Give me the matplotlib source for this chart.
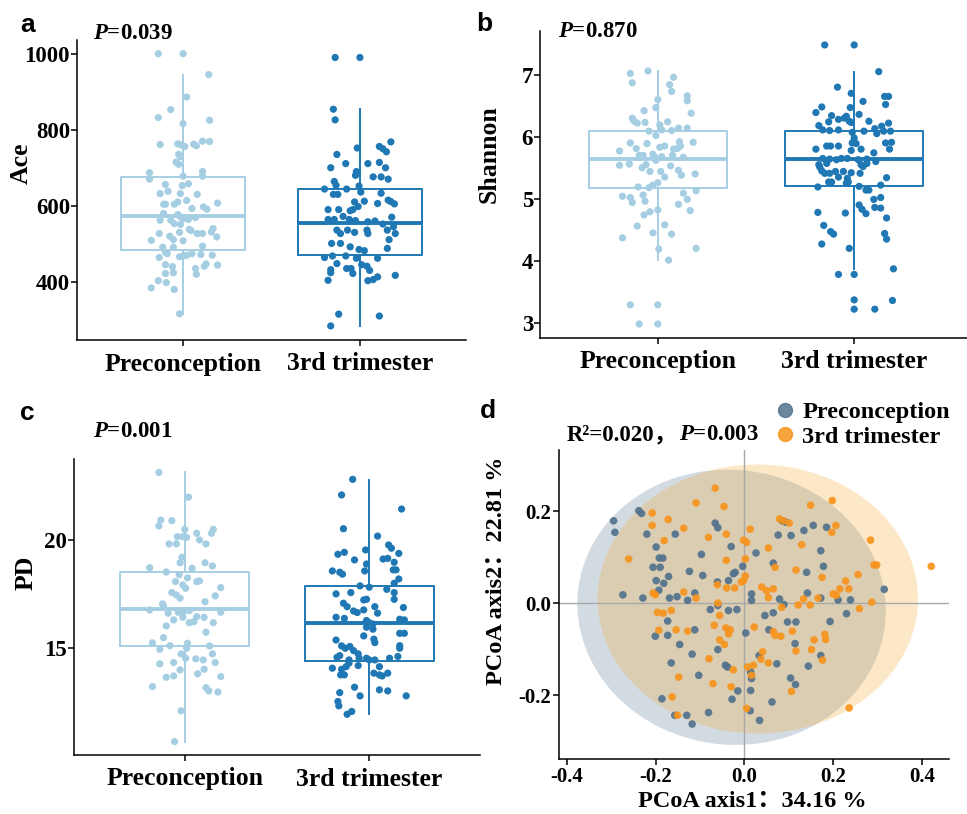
import numpy as np
import matplotlib
matplotlib.use('Agg')
import matplotlib.pyplot as plt
from matplotlib.patches import Ellipse
from matplotlib.lines import Line2D

plt.rcParams['font.family'] = ['Liberation Serif', 'Noto Sans CJK SC']
plt.rcParams['font.weight'] = 'bold'
plt.rcParams['axes.labelweight'] = 'bold'
plt.rcParams['mathtext.fontset'] = 'custom'
plt.rcParams['mathtext.it'] = 'Liberation Serif:italic:bold'
plt.rcParams['mathtext.rm'] = 'Liberation Serif:bold'
plt.rcParams['axes.linewidth'] = 1.1

groups = ['Preconception', '3rd trimester']

# ---- panel a: Ace (value, jitter offset) ----
ace_pre = [1000, 1000, 945, 886, 853, 832, 825, 816, 761, 763, 760, 756, 762, 758, 770, 769,
           735, 729, 715, 709, 687, 670, 690, 678, 678, 656, 653, 658, 632, 638, 632, 630,
           604, 604, 604, 610, 614, 593, 597, 591, 607, 580, 577, 571, 562, 562, 566, 564,
           569, 553, 551, 538, 535, 527, 530, 527, 527, 531, 540, 509, 520, 511, 508, 518,
           491, 478, 491, 494, 464, 474, 466, 468, 470, 474, 472, 470, 445, 440, 435, 441,
           447, 444, 422, 424, 420, 403, 398, 384, 380, 316]
ace_pre_jit = [-0.14, 0.0, 0.145, 0.02, -0.07, -0.14, 0.15, 0.0, -0.13, -0.03, -0.01, 0.01, 0.06, 0.075, 0.11, 0.15,
               -0.025, -0.015, -0.04, -0.025, -0.19, -0.19, 0.11, 0.11, 0.0, -0.1, -0.005, 0.03, -0.13, -0.085, -0.015, 0.08,
               -0.11, -0.05, -0.1, -0.03, 0.02, 0.05, 0.115, 0.135, 0.195, -0.11, -0.03, -0.015, -0.13, -0.07, 0.0, 0.03,
               0.07, -0.05, -0.015, 0.035, 0.045, -0.135, -0.02, 0.08, 0.11, 0.16, 0.17, -0.18, -0.075, -0.055, 0.0, 0.19,
               -0.115, -0.1, -0.055, 0.11, -0.135, -0.09, -0.02, 0.0, 0.02, 0.05, 0.1, 0.165, -0.1, -0.06, 0.07, 0.12,
               0.13, 0.195, -0.1, -0.055, 0.075, -0.14, -0.095, -0.18, -0.05, -0.02]
ace_tri = [990, 990, 854, 826, 752, 756, 750, 742, 768, 735, 700, 711, 711, 714, 700, 690,
           680, 676, 676, 670, 664, 654, 644, 644, 652, 630, 630, 636, 633, 615, 611, 605,
           610, 612, 606, 590, 590, 587, 590, 598, 570, 564, 564, 572, 564, 561, 558, 560,
           552, 545, 536, 527, 536, 530, 536, 527, 536, 527, 501, 501, 492, 511, 485, 482,
           488, 464, 468, 468, 462, 462, 448, 435, 435, 445, 441, 430, 432, 424, 422, 413,
           406, 403, 417, 404, 315, 310, 284]
ace_tri_jit = [-0.14, 0.0, -0.15, -0.14, -0.015, 0.11, 0.13, 0.15, 0.175, -0.13, -0.165, -0.08, 0.045, 0.11, 0.145, -0.02,
               -0.025, 0.075, 0.12, 0.16, -0.145, -0.135, -0.2, -0.075, -0.005, -0.15, -0.125, 0.005, 0.12, 0.16, 0.175, 0.195,
               -0.03, 0.025, 0.1, -0.18, -0.12, -0.055, -0.04, -0.01, 0.18, -0.18, -0.145, -0.095, -0.06, -0.025, 0.045, 0.085,
               0.13, 0.19, -0.13, -0.11, -0.07, -0.03, 0.04, 0.045, 0.155, 0.2, -0.16, -0.11, -0.055, 0.165, -0.005, 0.025,
               0.155, -0.2, -0.155, -0.08, -0.02, 0.1, -0.13, -0.075, -0.05, 0.01, 0.04, 0.055, -0.165, -0.165, -0.04, 0.1,
               0.075, 0.045, 0.2, -0.18, -0.12, 0.11, -0.165]

# ---- panel b: Shannon ----
sha_pre = [7.02, 7.06, 6.87, 6.96, 6.84, 6.73, 6.60, 6.66, 6.58, 6.47, 6.42, 6.38, 6.30, 6.25, 6.22, 6.23,
           6.24, 6.19, 6.09, 6.11, 6.10, 6.14, 6.14, 6.02, 5.90, 5.89, 5.92, 5.85, 5.91, 5.77, 5.81, 5.83,
           5.85, 5.80, 5.81, 5.70, 5.70, 5.72, 5.67, 5.68, 5.70, 5.67, 5.54, 5.56, 5.50, 5.55, 5.62, 5.53,
           5.44, 5.44, 5.46, 5.38, 5.40, 5.35, 5.26, 5.22, 5.19, 5.18, 5.13, 5.09, 5.04, 5.02, 4.94, 5.06,
           4.96, 4.99, 4.91, 4.79, 4.74, 4.82, 4.81, 4.56, 4.58, 4.45, 4.43, 4.37, 4.19, 4.20, 4.01, 3.29,
           3.29, 2.98, 2.98]
sha_pre_jit = [-0.14, -0.05, -0.13, 0.08, 0.06, 0.07, 0.0, 0.15, 0.15, -0.01, -0.07, 0.17, -0.13, -0.12, -0.105, -0.065,
               0.05, 0.01, -0.045, 0.02, 0.07, 0.105, 0.15, -0.01, -0.14, -0.055, 0.11, 0.115, 0.18, -0.195, -0.11, 0.01,
               0.035, 0.08, 0.1, -0.095, -0.075, -0.025, -0.015, 0.02, 0.075, 0.13, -0.195, -0.145, -0.08, -0.06, -0.01, 0.065,
               -0.04, 0.015, 0.105, 0.12, 0.19, 0.035, 0.0, -0.025, -0.1, -0.045, 0.195, 0.13, -0.18, -0.14, -0.13, -0.075,
               -0.065, 0.15, 0.105, -0.04, -0.07, 0.0, 0.165, -0.105, 0.035, -0.025, 0.07, -0.18, 0.005, 0.195, 0.055, -0.14,
               0.0, -0.095, 0.0]
sha_tri = [7.48, 7.48, 7.05, 6.80, 6.70, 6.57, 6.65, 6.65, 6.52, 6.48, 6.39, 6.34, 6.47, 6.36, 6.28, 6.30,
           6.33, 6.24, 6.18, 6.25, 6.23, 6.25, 6.17, 6.22, 6.13, 6.11, 6.10, 6.11, 6.07, 6.09, 6.05, 6.09,
           6.09, 5.98, 5.90, 5.89, 5.85, 5.85, 5.85, 5.90, 5.91, 5.80, 5.78, 5.80, 5.80, 5.74, 5.65, 5.64,
           5.63, 5.65, 5.55, 5.57, 5.65, 5.63, 5.64, 5.60, 5.55, 5.52, 5.57, 5.51, 5.45, 5.41, 5.44, 5.44,
           5.41, 5.42, 5.41, 5.35, 5.33, 5.27, 5.27, 5.27, 5.25, 5.19, 5.20, 5.14, 5.14, 5.22, 5.34, 5.02,
           4.99, 4.86, 4.85, 4.90, 4.83, 4.76, 4.78, 4.77, 4.69, 4.57, 4.47, 4.43, 4.44, 4.35, 4.27, 4.20,
           3.78, 3.78, 3.87, 3.37, 3.22, 3.22, 3.36]
sha_tri_jit = [-0.15, 0.0, 0.125, -0.085, -0.015, 0.045, 0.155, 0.175, 0.16, -0.165, -0.195, -0.115, -0.02, 0.025, -0.08, -0.05,
               -0.04, -0.13, -0.18, -0.025, -0.015, 0.075, 0.14, 0.175, 0.105, -0.16, -0.125, -0.08, -0.01, 0.05, 0.115, 0.15,
               0.185, 0.0, -0.01, 0.01, -0.14, -0.12, -0.08, 0.16, 0.19, -0.195, -0.015, 0.035, 0.18, 0.1, -0.16, -0.125,
               -0.09, -0.065, -0.18, -0.14, -0.035, 0.02, 0.065, 0.11, 0.035, 0.045, 0.065, -0.175, -0.165, -0.15, -0.095, -0.055,
               -0.125, -0.015, 0.03, -0.08, -0.035, -0.13, -0.115, -0.03, -0.04, -0.185, 0.025, 0.06, 0.075, 0.135, 0.165, 0.135,
               0.1, 0.105, 0.135, 0.025, 0.04, 0.06, -0.185, -0.045, 0.165, -0.155, -0.12, -0.105, 0.155, 0.165, -0.165, -0.025,
               -0.08, 0.0, 0.2, 0.0, 0.0, 0.105, 0.195]

# ---- panel c: PD ----
pd_pre = [23.12, 21.98, 20.92, 20.65, 20.89, 20.49, 20.49, 20.31, 20.15, 20.15, 20.12, 20.31, 20.00, 19.82, 19.82, 19.82,
          19.20, 18.95, 18.72, 18.95, 18.80, 18.69, 18.52, 18.40, 18.25, 18.08, 18.11, 18.08, 17.92, 17.77, 17.80, 17.57,
          17.46, 17.31, 17.42, 17.15, 17.05, 16.95, 16.77, 16.66, 16.62, 16.74, 16.62, 16.66, 16.31, 16.43, 16.46, 16.43,
          16.18, 16.23, 16.18, 16.03, 15.74, 15.49, 15.25, 15.12, 15.23, 15.00, 14.95, 15.11, 14.74, 14.74, 14.54, 14.51,
          14.46, 14.34, 14.28, 14.34, 14.00, 13.66, 13.72, 13.82, 14.03, 13.69, 13.23, 13.18, 13.03, 12.98, 12.11, 10.69]
pd_pre_jit = [-0.14, 0.02, -0.13, -0.14, -0.07, 0.0, 0.155, 0.145, -0.04, -0.01, 0.01, 0.065, 0.08, 0.115, -0.085, -0.045,
              -0.015, -0.025, -0.19, 0.11, 0.15, 0.04, -0.1, -0.03, 0.015, 0.065, 0.08, -0.05, -0.01, 0.005, 0.195, -0.07,
              -0.045, -0.025, 0.165, 0.11, -0.12, -0.115, -0.19, -0.035, -0.01, 0.025, -0.09, 0.195, -0.06, -0.01, 0.065, 0.105,
              0.025, 0.05, 0.155, -0.1, 0.115, -0.115, -0.175, -0.08, 0.015, 0.01, -0.135, 0.135, -0.02, 0.15, 0.005, 0.06,
              0.1, -0.06, -0.135, 0.165, -0.025, -0.1, -0.06, 0.07, 0.105, 0.195, -0.175, 0.115, 0.13, 0.18, -0.02, -0.055]
pd_tri = [22.80, 22.08, 21.43, 20.52, 20.18, 19.77, 19.62, 19.54, 19.34, 19.43, 19.38, 19.08, 19.12, 19.15, 18.97, 18.89,
          18.57, 18.51, 18.42, 18.57, 18.62, 18.62, 18.20, 18.00, 17.88, 17.82, 17.72, 17.51, 17.57, 17.57, 17.26, 17.23,
          17.26, 17.08, 16.92, 16.92, 16.88, 16.72, 16.65, 16.77, 16.62, 16.43, 16.38, 16.28, 16.18, 16.12, 16.34, 16.31,
          15.97, 15.88, 15.69, 15.69, 15.57, 15.42, 15.26, 15.38, 15.11, 15.00, 15.08, 15.12, 15.00, 14.89, 14.74, 14.66,
          14.58, 14.46, 14.54, 14.54, 14.46, 14.46, 14.54, 14.62, 14.08, 14.03, 14.15, 14.20, 14.31, 13.77, 13.77, 13.85,
          13.77, 13.85, 13.72, 14.15, 13.20, 13.08, 13.03, 12.95, 12.80, 12.80, 12.54, 12.34, 12.08, 11.95]
pd_tri_jit = [-0.09, -0.15, 0.175, -0.14, 0.045, 0.105, 0.12, -0.02, -0.17, -0.135, 0.16, -0.08, 0.075, 0.1, 0.135, -0.015,
              -0.2, -0.16, -0.145, -0.025, 0.13, 0.145, 0.16, 0.135, -0.05, 0.0, 0.095, -0.18, -0.1, 0.135, 0.135, -0.03,
              -0.015, -0.14, -0.12, 0.03, 0.185, -0.085, -0.065, -0.03, 0.045, -0.18, -0.135, -0.015, 0.0, 0.02, 0.165, 0.19,
              -0.015, 0.02, 0.165, 0.19, -0.03, 0.025, 0.03, -0.18, -0.15, -0.13, -0.105, 0.165, 0.165, -0.085, -0.06, -0.16,
              -0.175, -0.11, -0.055, -0.015, 0.0, 0.03, 0.11, 0.155, -0.2, -0.15, -0.125, -0.06, -0.11, -0.155, -0.135, 0.025,
              0.055, 0.1, 0.07, 0.055, -0.08, 0.055, 0.1, -0.16, -0.05, 0.2, -0.17, -0.165, -0.095, -0.12]

# box statistics as drawn: whisker low, Q1, median, Q3, whisker high
ace_box = [[316, 483, 572, 676, 943], [284, 470, 556, 643, 854]]
sha_box = [[4.01, 5.18, 5.64, 6.09, 7.06], [3.87, 5.21, 5.64, 6.10, 7.04]]
pd_box = [[10.69, 15.11, 16.80, 18.54, 23.12], [11.95, 14.43, 16.15, 17.88, 22.77]]

# ---- panel d: PCoA ----
pc_pre_x = [-0.295, -0.292, -0.238, -0.232, -0.220, -0.156, -0.199, -0.192, -0.184, -0.206, -0.190, -0.199, -0.182, -0.193,
            -0.171, -0.274, -0.229, -0.169, -0.152, -0.128, -0.112, -0.124, -0.094, -0.097, -0.066, -0.060, -0.030, -0.061,
            -0.036, -0.025, -0.021, -0.004, 0.026, 0.016, 0.016, -0.077, -0.060, -0.036, -0.017, -0.173, -0.201, -0.173,
            -0.112, -0.146, 0.003, -0.118, -0.060, -0.165, -0.043, -0.038, 0.033, -0.103, 0.014, 0.016, -0.015, 0.014,
            -0.186, -0.028, -0.157, -0.130, -0.118, -0.081, 0.013, 0.034, 0.062, 0.046, 0.065, 0.055, 0.073, 0.104,
            0.115, 0.114, 0.097, 0.116, 0.089, 0.079, 0.065, 0.076, 0.085, 0.093, 0.105, 0.134, 0.155, 0.185,
            0.140, 0.142, 0.172, 0.178, 0.172, 0.211, 0.239, 0.193, 0.230, 0.172, 0.144, 0.315]
pc_pre_y = [0.179, 0.154, 0.201, 0.195, 0.150, 0.150, 0.122, 0.098, 0.098, 0.078, 0.078, 0.049, 0.043, 0.028,
            0.058, 0.018, 0.011, 0.011, 0.014, 0.006, 0.022, 0.069, 0.060, 0.106, 0.174, 0.164, 0.123, 0.046,
            0.049, 0.064, 0.067, 0.080, 0.109, 0.020, 0.006, -0.014, -0.005, -0.016, -0.014, -0.039, -0.072, -0.070,
            -0.058, -0.090, -0.065, -0.111, -0.101, -0.130, -0.135, -0.139, -0.114, -0.157, -0.150, -0.164, -0.191, -0.190,
            -0.208, -0.209, -0.244, -0.244, -0.263, -0.238, -0.234, -0.255, -0.215, -0.027, -0.021, -0.058, -0.132, -0.163,
            -0.177, -0.088, -0.041, -0.041, -0.003, 0.009, 0.087, 0.148, 0.179, 0.176, 0.147, 0.158, 0.169, 0.165,
            0.067, 0.022, 0.114, 0.080, 0.011, 0.007, 0.007, -0.040, -0.023, -0.114, -0.137, 0.030]
pc_tri_x = [-0.066, -0.109, -0.046, -0.208, -0.172, -0.208, -0.137, -0.181, -0.261, -0.081, -0.041, 0.013, -0.002, 0.005,
            -0.041, 0.002, 0.054, 0.079, 0.088, 0.101, 0.149, 0.198, 0.206, 0.197, 0.129, 0.284, 0.292, 0.298,
            0.421, 0.069, 0.116, 0.175, 0.256, 0.228, 0.215, 0.235, 0.200, 0.207, 0.259, 0.287, 0.166, 0.148,
            0.121, 0.133, 0.084, 0.054, 0.039, 0.050, 0.065, -0.007, -0.002, 0.002, -0.040, -0.022, -0.061, -0.137,
            -0.109, -0.206, -0.201, -0.196, -0.183, -0.165, -0.060, -0.056, -0.193, -0.154, -0.128, -0.068, -0.042, -0.032,
            -0.036, -0.056, -0.045, 0.022, 0.065, 0.069, 0.082, 0.108, 0.157, 0.151, 0.183, 0.181, 0.116, 0.041,
            0.037, 0.054, -0.080, -0.025, 0.007, 0.020, 0.016, -0.148, -0.071, -0.030, 0.106, -0.163, 0.005, -0.151,
            0.236, 0.176]
pc_tri_y = [0.250, 0.218, 0.210, 0.196, 0.182, 0.169, 0.163, 0.136, 0.096, 0.143, 0.150, 0.161, 0.137, 0.132,
            0.093, 0.096, 0.120, 0.183, 0.179, 0.174, 0.213, 0.223, 0.169, 0.154, 0.127, 0.137, 0.083, 0.083,
            0.080, 0.078, 0.072, 0.056, 0.062, 0.048, 0.031, 0.031, 0.020, 0.017, -0.012, 0.002, 0.011, -0.004,
            -0.004, 0.009, -0.009, 0.012, 0.035, 0.027, 0.031, 0.046, 0.049, 0.059, 0.033, 0.033, 0.040, 0.024,
            0.011, 0.022, 0.018, -0.020, -0.022, -0.016, 0.000, -0.027, -0.059, -0.058, -0.061, -0.048, -0.054, -0.058,
            -0.067, -0.080, -0.090, -0.052, -0.062, -0.070, -0.072, -0.061, -0.080, -0.101, -0.079, -0.068, -0.104, -0.106,
            -0.122, -0.130, -0.121, -0.145, -0.139, -0.135, -0.157, -0.161, -0.175, -0.182, -0.192, -0.204, -0.229, -0.244,
            -0.228, -0.124]

# 95% ellipses as drawn: centre x, centre y, width, height, angle
ell_pre = [-0.029, -0.009, 0.696, 0.598, -5]
ell_tri = [0.030, 0.009, 0.722, 0.585, 0]

c_light = '#A6CEE3'
c_dark = '#1F78B4'
c_pre = '#52728C'
c_tri = '#F7941D'

W, H = 967, 814
fig = plt.figure(figsize=(W / 100, H / 100), dpi=100)


def box_panel(rect, vals, jits, boxes, ylabel, yticks, ylim, lab_xy):
    ax = fig.add_axes(rect)
    for i, (v, j, b, c) in enumerate(zip(vals, jits, boxes, [c_light, c_dark])):
        st = dict(whislo=b[0], q1=b[1], med=b[2], q3=b[3], whishi=b[4], fliers=[])
        ax.bxp([st], positions=[i + 1], widths=0.7, showcaps=False, showfliers=False,
               boxprops=dict(color=c, lw=1.4), whiskerprops=dict(color=c, lw=1.4),
               medianprops=dict(color=c, lw=2.8), manage_ticks=False)
        ax.scatter(i + 1 + np.array(j), v, s=27, color=c, edgecolors='none', zorder=3)
    ax.set_xlim(0.4, 2.6)
    ax.set_ylim(*ylim)
    ax.set_xticks([1, 2])
    ax.set_xticklabels(groups)
    ax.set_yticks(yticks)
    ax.spines['top'].set_visible(False)
    ax.spines['right'].set_visible(False)
    ax.tick_params(axis='x', length=4, width=1.1, labelsize=18.5, pad=5)
    ax.tick_params(axis='y', length=4, width=1.1, labelsize=16.5, pad=1)
    ax.set_ylabel(ylabel, fontsize=18.5)
    ax.yaxis.label.set_verticalalignment('center')
    ax.yaxis.set_label_coords(*lab_xy)
    return ax


box_panel([77 / W, 1 - 340 / H, 389 / W, 300 / H], [ace_pre, ace_tri], [ace_pre_jit, ace_tri_jit],
          ace_box, 'Ace', [400, 600, 800, 1000], (247, 1036), (-0.144, 0.59))
box_panel([540 / W, 1 - 338 / H, 432 / W, 307 / H], [sha_pre, sha_tri], [sha_pre_jit, sha_tri_jit],
          sha_box, 'Shannon', [3, 4, 5, 6, 7], (2.755, 7.705), (-0.118, 0.60))
box_panel([74 / W, 1 - 755 / H, 406 / W, 296 / H], [pd_pre, pd_tri], [pd_pre_jit, pd_tri_jit],
          pd_box, 'PD', [15, 20], (10.07, 23.74), (-0.118, 0.615))

# PCoA panel
ax = fig.add_axes([559 / W, 1 - 759 / H, 390 / W, 309 / H])
for e, c in [(ell_pre, c_pre), (ell_tri, '#F5A623')]:
    ax.add_patch(Ellipse((e[0], e[1]), e[2], e[3], angle=e[4], facecolor=c, alpha=0.25,
                         edgecolor='none', zorder=1))
ax.axhline(0, color='#A8A8A8', lw=1.0, zorder=2)
ax.axvline(0, color='#A8A8A8', lw=1.0, zorder=2)
ax.scatter(pc_pre_x, pc_pre_y, s=30, color=c_pre, alpha=0.92, edgecolors='none', zorder=3)
ax.scatter(pc_tri_x, pc_tri_y, s=30, color=c_tri, alpha=0.92, edgecolors='none', zorder=3)
ax.set_xlim(-0.418, 0.461)
ax.set_ylim(-0.339, 0.333)
ax.set_xticks([-0.4, -0.2, 0.0, 0.2, 0.4])
ax.set_yticks([-0.2, 0.0, 0.2])
ax.xaxis.set_major_formatter(matplotlib.ticker.FormatStrFormatter('%.1f'))
ax.yaxis.set_major_formatter(matplotlib.ticker.FormatStrFormatter('%.1f'))
ax.spines['top'].set_visible(False)
ax.spines['right'].set_visible(False)
ax.tick_params(length=4, width=1.1, labelsize=15, pad=2)
ax.set_xlabel('PCoA axis1：34.16 %', fontsize=17.5)
ax.set_ylabel('PCoA axis2：22.81 %', fontsize=17.5)
ax.xaxis.label.set_verticalalignment('center')
ax.yaxis.label.set_verticalalignment('center')
ax.xaxis.set_label_coords(0.495, -0.139)
ax.yaxis.set_label_coords(-0.159, 0.608)

handles = [Line2D([], [], marker='o', ls='', color=c_pre, alpha=0.85, markersize=10),
           Line2D([], [], marker='o', ls='', color=c_tri, alpha=0.85, markersize=10)]
fig.legend(handles, groups, loc='upper left', bbox_to_anchor=(773 / W, 1 - 401 / H),
           frameon=False, fontsize=17.5, borderpad=0, handlelength=1.0, handletextpad=0.2,
           labelspacing=0.12, borderaxespad=0)

# panel letters and statistics
for s, x, y in [('a', 20, 32), ('b', 476, 31), ('c', 20, 420), ('d', 480, 418)]:
    fig.text(x / W, 1 - y / H, s, family='Liberation Sans', weight='bold', fontsize=19, va='baseline')
for s, x, y in [(r'$P$=0.039', 93, 39), (r'$P$=0.870', 558, 37), (r'$P$=0.001', 93, 437),
                (r'$P$=0.003', 679, 440)]:
    fig.text(x / W, 1 - y / H, s, fontsize=16.5, va='baseline')
fig.text(567 / W, 1 - 440 / H, 'R²=0.020，', fontsize=16.5, va='baseline')

fig.savefig('out.png', dpi=100)
